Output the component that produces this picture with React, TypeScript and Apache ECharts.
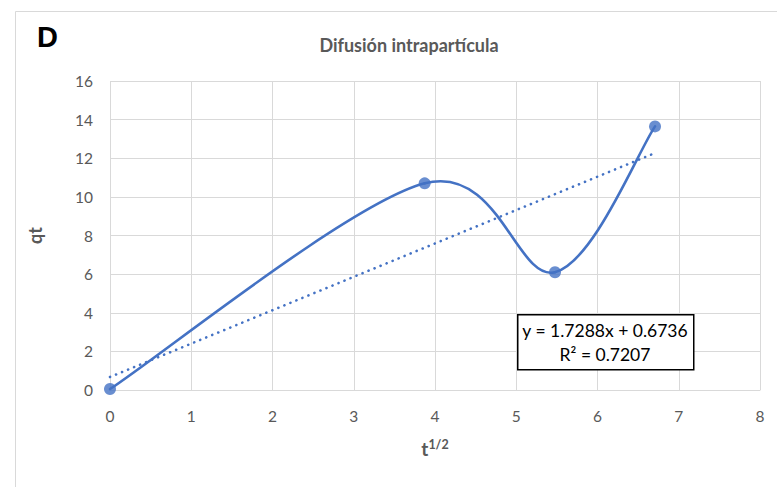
import React, { useEffect, useRef } from "react";
import * as echarts from "echarts";

const xValues = [0, 3.873, 5.477, 6.708];
const qtValues = [0.05, 10.7, 6.1, 13.65];
const slope = 1.7288;
const intercept = 0.6736;
const trendX = [0, 6.708];
const xTicks = [0, 1, 2, 3, 4, 5, 6, 7, 8];
const yTicks = [0, 2, 4, 6, 8, 10, 12, 14, 16];
const titleText = "Difusión intrapartícula";
const panelLabel = "D";
const eqLine1 = "y = 1.7288x + 0.6736";
const eqLine2 = "R² = 0.7207";

export default function App() {
  const ref = useRef<HTMLDivElement>(null);
  useEffect(() => {
    if (!ref.current) return;
    const chart = echarts.init(ref.current, null, { renderer: "svg" });
    const font = "Lato, 'Open Sans', sans-serif";
    const data = xValues.map((x, i) => [x, qtValues[i]]);
    const trend = trendX.map((x) => [x, slope * x + intercept]);
    const n = xValues.length;
    chart.setOption({
      animation: false,
      backgroundColor: "#ffffff",
      title: {
        text: titleText,
        left: 404,
        top: 31,
        textAlign: "center",
        textStyle: { fontFamily: font, fontSize: 18, fontWeight: "bold", color: "#595959" },
      },
      grid: { left: 110, right: 17, top: 81, bottom: 97, containLabel: false },
      xAxis: {
        type: "value",
        min: xTicks[0],
        max: xTicks[xTicks.length - 1],
        interval: 1,
        name: "{b|t}{s|1/2}",
        nameLocation: "middle",
        nameGap: 48,
        nameTextStyle: {
          rich: {
            b: { fontFamily: font, fontSize: 19, fontWeight: "bold", color: "#595959" },
            s: { fontFamily: font, fontSize: 12.5, fontWeight: "bold", color: "#595959", padding: [0, 0, 7, 0] },
          },
        },
        axisLine: { show: true, lineStyle: { color: "#d9d9d9", width: 1 } },
        axisTick: { show: false },
        axisLabel: { fontFamily: font, fontSize: 15.5, color: "#595959", margin: 18 },
        splitLine: { show: true, lineStyle: { color: "#d9d9d9", width: 1 } },
      },
      yAxis: {
        type: "value",
        min: yTicks[0],
        max: yTicks[yTicks.length - 1],
        interval: 2,
        name: "qt",
        nameLocation: "middle",
        nameGap: 66,
        nameRotate: 90,
        nameTextStyle: { fontFamily: font, fontSize: 18, fontWeight: "bold", color: "#595959" },
        axisLine: { show: false },
        axisTick: { show: false },
        axisLabel: { fontFamily: font, fontSize: 15.5, color: "#595959", margin: 17 },
        splitLine: { show: true, lineStyle: { color: "#d9d9d9", width: 1 } },
      },
      series: [
        {
          type: "line",
          data: trend,
          showSymbol: false,
          symbol: "none",
          lineStyle: { color: "#4472c4", width: 2.6, type: [0.1, 6.4], cap: "round" },
          z: 2,
        },
        {
          type: "custom",
          data: data.slice(0, n - 1),
          z: 3,
          renderItem: (params: any, api: any) => {
            const i = params.dataIndex;
            const p = (j: number) => {
              const k = Math.max(0, Math.min(n - 1, j));
              return api.coord([xValues[k], qtValues[k]]);
            };
            const p0 = p(i - 1);
            const p1 = p(i);
            const p2 = p(i + 1);
            const p3 = p(i + 2);
            return {
              type: "bezierCurve",
              shape: {
                x1: p1[0],
                y1: p1[1],
                cpx1: p1[0] + (p2[0] - p0[0]) / 6,
                cpy1: p1[1] + (p2[1] - p0[1]) / 6,
                cpx2: p2[0] - (p3[0] - p1[0]) / 6,
                cpy2: p2[1] - (p3[1] - p1[1]) / 6,
                x2: p2[0],
                y2: p2[1],
              },
              style: { fill: "none", stroke: "#4472c4", lineWidth: 2.6, lineCap: "round" },
            };
          },
        },
        {
          type: "scatter",
          data: data,
          symbol: "circle",
          symbolSize: 12,
          itemStyle: { color: "#4472c4" },
          z: 4,
        },
      ],
      graphic: [
        {
          type: "rect",
          left: 13,
          top: 9,
          shape: { width: 800, height: 500 },
          style: { fill: "none", stroke: "#d9d9d9", lineWidth: 1 },
          z: 0,
        },
        {
          type: "text",
          left: 37,
          top: 22,
          style: { text: panelLabel, fontFamily: "'Liberation Sans', Arial, sans-serif", fontSize: 29, fontWeight: "bold", fill: "#000000" },
        },
        {
          type: "rect",
          left: 517,
          top: 314,
          shape: { width: 176, height: 55 },
          style: { fill: "#ffffff", stroke: "#000000", lineWidth: 1.5 },
          z: 10,
        },
        {
          type: "text",
          x: 605,
          y: 330,
          style: { text: eqLine1, fontFamily: font, fontSize: 17.5, fill: "#000000", textAlign: "center", textVerticalAlign: "middle" },
          z: 11,
        },
        {
          type: "text",
          x: 605,
          y: 354,
          style: { text: eqLine2, fontFamily: font, fontSize: 17.5, fill: "#000000", textAlign: "center", textVerticalAlign: "middle" },
          z: 11,
        },
      ],
    });
    return () => chart.dispose();
  }, []);
  return (
    <div
      ref={ref}
      style={{ position: "fixed", left: 0, top: 0, width: 777, height: 487, background: "#fff" }}
    />
  );
}
